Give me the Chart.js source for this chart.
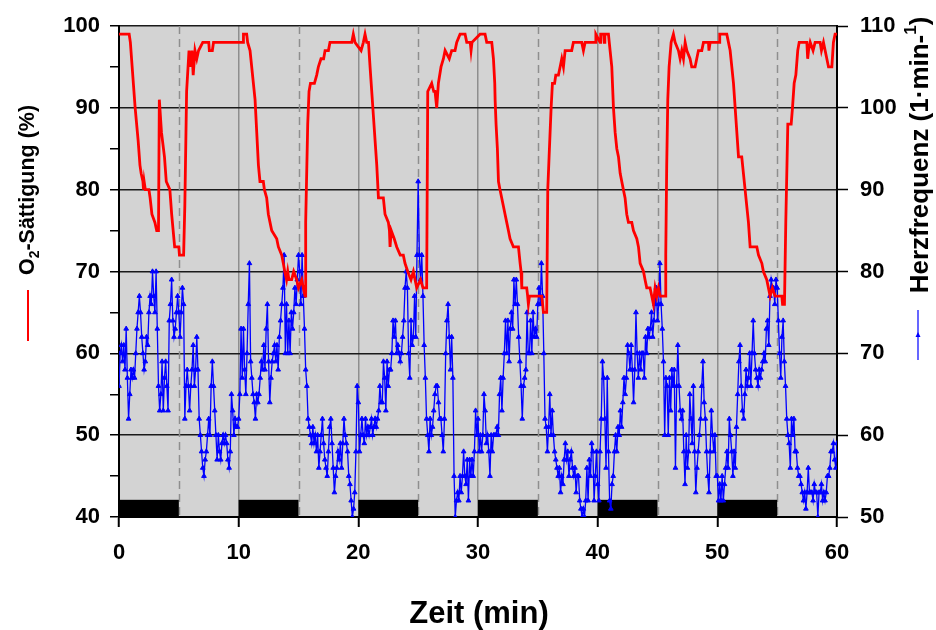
<!DOCTYPE html>
<html>
<head>
<meta charset="utf-8">
<script src="https://cdn.jsdelivr.net/npm/chart.js@4"></script>
<style>
  body { margin: 0; background: #fff; }
  #chart { display: block; }
</style>
</head>
<body>
<canvas id="chart" width="936" height="630"></canvas>
<script>
var o2Time = [
  0, 0.85, 0.95, 1.35, 1.6, 1.75, 1.85, 2.0, 2.05, 2.1, 2.2, 2.5, 2.6, 2.75, 3.0, 3.15, 3.3, 3.37, 3.55, 3.8,
  3.95, 4.25, 4.4, 4.65, 5.0, 5.05, 5.4, 5.5, 5.65, 5.85, 6.0, 6.1, 6.2, 6.35, 6.5, 6.65, 7.0, 7.5, 7.55, 7.8, 7.9,
  10.39, 10.4, 10.67, 10.75, 10.95, 11.37, 11.51, 11.65, 11.78, 12.06, 12.15, 12.34, 12.48, 12.62, 12.76, 13.18,
  13.32, 13.6, 13.73, 13.85, 14.0, 14.1, 14.2, 14.43, 14.6, 14.85, 15.0, 15.27, 15.4, 15.55, 15.6, 15.77, 15.88,
  16.0, 16.33, 16.52, 16.66, 16.88, 17.1, 17.22, 17.5, 17.63, 19.45, 19.58, 19.72,
  20.23, 20.42, 20.56, 20.7, 20.85, 20.98, 21.12, 21.26, 21.4, 21.54, 21.68, 22.09, 22.23, 22.51, 22.6, 22.65,
  22.75, 23.0, 23.21, 23.5, 23.76, 23.9, 24.13, 24.4, 24.6, 24.88, 25.2, 25.4, 25.71, 25.8, 26.13, 26.3, 26.41,
  26.55, 26.69, 26.91, 27.11, 27.25, 27.6, 27.8, 28.08, 28.22, 28.5, 28.92, 29.06, 29.35, 29.42, 29.5,
  30.17, 30.59, 30.73, 31.15, 31.29, 31.4, 31.43, 31.51, 31.62, 31.71, 31.84, 32.12, 32.26, 32.4, 32.54, 32.68,
  32.96, 33.38, 33.52, 33.6, 33.66, 34.07, 34.15, 34.21, 34.3, 35.33, 35.47, 35.74, 35.83, 35.94, 36.11, 36.22,
  36.4, 36.5, 36.72, 36.86, 37.0, 37.14, 37.28, 37.83, 37.97, 38.67, 38.81, 38.95, 39.78, 39.85,
  40.2, 40.25, 40.5, 40.55, 40.6, 40.9, 41.04, 41.18, 41.32, 41.46, 41.6, 41.74, 41.88, 42.15, 42.29, 42.43,
  42.57, 42.85, 42.99, 43.27, 43.41, 43.55, 43.83, 43.96, 44.1, 44.38, 44.52, 44.66, 44.8, 44.94, 45.08, 45.22,
  45.64, 45.69, 45.77, 45.86, 45.97, 46.14, 46.33, 46.47, 46.75, 46.89, 47.03, 47.17, 47.31, 47.45, 47.72, 47.86,
  48.14, 48.28, 48.42, 48.7, 48.84, 49.26, 49.3, 49.4, 49.53,
  50.15, 50.2, 50.79, 50.93, 51.07, 51.21, 51.35, 51.49, 51.63, 51.77, 52.04, 52.18, 52.32, 52.46, 52.6, 52.74,
  53.3, 53.44, 53.72, 53.85, 54.13, 54.27, 54.41, 54.6, 54.83, 55.39, 55.45, 55.61, 55.72, 55.89, 56.17, 56.28,
  56.42, 56.56, 56.72, 56.84, 57.48, 57.55, 57.62, 57.76, 58.0, 58.17, 58.59, 58.7, 58.87, 59.15, 59.29, 59.57,
  59.7, 59.84, 60
];
var o2Values = [
  99, 99, 98, 90, 86, 83, 82, 81, 80, 81, 80, 80, 79, 77, 76, 75, 75, 91, 87, 84,
  81, 80, 77, 73, 73, 72, 72, 78, 92, 97, 95, 97, 94, 97, 96, 97, 98, 98, 97, 97, 98,
  98, 99, 99, 98, 97, 91, 87, 83, 81, 81, 80, 79, 77, 76, 75, 74,
  73, 72, 71, 70, 69, 70, 69, 69, 70, 69, 68, 69, 68, 67, 76, 88, 92,
  93, 93, 94, 95, 96, 96, 97, 97, 98, 98, 99, 98,
  97, 98, 99, 98, 98, 95, 92, 89, 86, 83, 79, 79, 77, 76, 75, 73,
  75, 74, 73, 72, 72, 71, 70, 69, 70, 68, 69, 68, 68, 92, 93, 92, 92,
  90, 93, 95, 96, 97, 96, 97, 97, 98, 99, 99, 98, 98, 97, 98,
  99, 99, 98, 98, 96, 93, 91, 88, 85, 81, 80, 78, 77, 76, 75, 74,
  73, 73, 71, 70, 68, 68, 67, 66, 67, 67, 65, 65, 80, 84, 90, 93,
  93, 94, 94, 95, 96, 95, 97, 97, 98, 98, 97, 98, 98, 99,
  98, 99, 99, 98, 99, 99, 97, 95, 90, 87, 85, 84, 82, 80, 79, 77,
  76, 76, 75, 74, 73, 71, 70, 69, 68, 68, 67, 66, 68, 67, 68, 67,
  67, 72, 83, 91, 95, 98, 99, 98, 97, 96, 97, 96, 98, 97, 96, 95,
  95, 96, 97, 97, 98, 98, 97, 98, 98,
  98, 99, 99, 98, 97, 95, 93, 90, 87, 84, 84, 82, 80, 78, 76, 73,
  73, 72, 71, 70, 69, 68, 67, 68, 67, 67, 66, 66, 76, 88, 88, 90,
  93, 94, 97, 98, 98, 96, 97, 98, 97, 98, 98, 97, 98, 96, 95, 95,
  98, 99, 99
];

// Herzfrequenz (1/min), one reading every 0.1 min, one row per minute
var hrStep = 0.1;
var hrValues = [
  66, 70, 71, 69, 71, 68, 73, 67, 62, 65,
  68, 67, 68, 67, 70, 73, 75, 77, 75, 72,
  70, 68, 69, 72, 71, 75, 77, 76, 80, 77,
  75, 80, 73, 66, 63, 65, 69, 63, 67, 69,
  66, 63, 74, 76, 79, 74, 72, 73, 75, 77,
  75, 72, 75, 78, 76, 62, 66, 68, 66, 63,
  66, 68, 71, 66, 68, 72, 68, 62, 60, 58,
  56, 55, 57, 58, 60, 62, 60, 66, 69, 66,
  63, 60, 57, 60, 58, 57, 59, 60, 59, 60,
  59, 57, 56, 58, 65, 63, 60, 62, 61, 61,
  62, 65, 73, 67, 73, 68, 65, 70, 76, 81,
  69, 67, 65, 64, 62, 65, 64, 65, 67, 69,
  68, 71, 68, 73, 76, 69, 64, 67, 69, 70,
  71, 69, 71, 68, 72, 74, 76, 78, 82, 70,
  76, 70, 74, 70, 75, 73, 75, 78, 76, 79,
  82, 80, 76, 82, 77, 73, 68, 66, 62, 61,
  60, 59, 61, 59, 60, 58, 60, 56, 58, 60,
  62, 59, 57, 56, 55, 58, 61, 62, 59, 56,
  53, 55, 56, 58, 57, 59, 56, 59, 62, 60,
  59, 58, 55, 54, 52, 50, 51, 53, 58, 66,
  64, 58, 60, 62, 60, 59, 62, 60, 61, 60,
  61, 62, 60, 61, 62, 61, 62, 63, 66, 64,
  64, 69, 67, 63, 69, 66, 68, 68, 70, 74,
  72, 74, 70, 71, 70, 69, 70, 72, 74, 78,
  80, 78, 70, 67, 74, 71, 72, 77, 72, 82,
  91, 82, 79, 82, 77, 71, 67, 62, 60, 58,
  62, 60, 61, 63, 65, 66, 66, 64, 62, 62,
  60, 58, 62, 70, 74, 76, 72, 68, 72, 67,
  55, 50, 52, 53, 52, 55, 53, 55, 58, 55,
  54, 57, 52, 57, 55, 57, 55, 58, 63, 60,
  62, 58, 60, 58, 60, 65, 63, 59, 60, 58,
  55, 60, 58, 60, 60, 60, 61, 60, 65, 67,
  63, 67, 70, 74, 70, 74, 69, 73, 75, 73,
  79, 76, 79, 76, 72, 69, 66, 62, 66, 67,
  68, 75, 70, 70, 74, 70, 75, 72, 73, 72,
  76, 78, 76, 81, 77, 70, 62, 61, 58, 61,
  65, 60, 63, 60, 58, 57, 56, 55, 56, 53,
  55, 54, 57, 59, 57, 58, 55, 57, 58, 56,
  55, 56, 53, 55, 55, 52, 51, 50, 51, 50,
  52, 56, 52, 57, 55, 59, 58, 52, 55, 58,
  54, 52, 58, 62, 69, 67, 62, 56, 67, 58,
  52, 51, 54, 55, 58, 60, 58, 61, 60, 63,
  61, 64, 67, 65, 67, 71, 70, 68, 71, 68,
  64, 68, 75, 70, 67, 70, 68, 70, 70, 67,
  72, 70, 73, 72, 73, 75, 72, 74, 76, 78,
  74, 76, 81, 76, 73, 69, 60, 67, 66, 60,
  67, 63, 68, 66, 68, 56, 66, 71, 66, 63,
  62, 63, 58, 54, 60, 56, 58, 65, 62, 59,
  66, 58, 53, 56, 58, 60, 62, 66, 69, 64,
  62, 58, 55, 53, 58, 63, 60, 58, 60, 55,
  55, 52, 54, 52, 55, 52, 54, 56, 58, 56,
  62, 60, 58, 55, 58, 56, 61, 65, 69, 71,
  66, 63, 62, 65, 68, 66, 67, 70, 66, 70,
  74, 70, 68, 67, 66, 68, 67, 68, 69, 70,
  69, 73, 74, 71, 77, 79, 78, 78, 76, 79,
  78, 74, 70, 67, 72, 74, 69, 66, 62, 60,
  59, 56, 62, 60, 62, 58, 58, 56, 55, 55,
  54, 53, 52, 53, 51, 53, 56, 53, 53, 53,
  52, 54, 53, 53, 50, 53, 53, 54, 52, 53,
  52, 53, 55, 55, 56, 58, 58, 59, 57, 56,
  59
];

// black bars along the bottom (left axis units)
var barStart = [0, 10, 20, 30, 40, 50];
var barEnd = [5, 15, 25, 35, 45, 55];
var barBottom = 40;
var barTop = 42.1;
// dashed verticals
var dashedAt = [5, 15, 25, 35, 45, 55];

var FONT = '"Liberation Sans", Arial, sans-serif';

// text laid out along a rotated baseline, with sub/superscript pieces
function drawRotated(ctx, parts, bx, cy, size) {
  ctx.save();
  ctx.translate(bx, cy);
  ctx.rotate(-Math.PI / 2);
  var total = 0;
  parts.forEach(function (p) {
    ctx.font = 'bold ' + (p.s ? size * 0.65 : size) + 'px ' + FONT;
    p.w = ctx.measureText(p.t).width;
    total += p.w;
  });
  var x = -total / 2;
  ctx.textAlign = 'left';
  ctx.textBaseline = 'alphabetic';
  parts.forEach(function (p) {
    ctx.font = 'bold ' + (p.s ? size * 0.65 : size) + 'px ' + FONT;
    var dy = p.s === 'sub' ? size * 0.22 : (p.s === 'sup' ? -size * 0.45 : 0);
    ctx.fillText(p.t, x, dy);
    x += p.w;
  });
  ctx.restore();
}

var decor = {
  id: 'decor',
  beforeDraw: function (chart) {
    var a = chart.chartArea, ctx = chart.ctx;
    ctx.save();
    ctx.fillStyle = '#d3d3d3';
    ctx.fillRect(a.left, a.top, a.right - a.left, a.bottom - a.top);
    ctx.restore();
  },
  beforeDatasetsDraw: function (chart) {
    var a = chart.chartArea, ctx = chart.ctx;
    var xs = chart.scales.x, ys = chart.scales.y;
    ctx.save();
    ctx.strokeStyle = '#8e8e8e';
    ctx.lineWidth = 1.5;
    ctx.setLineDash([8, 5]);
    dashedAt.forEach(function (v) {
      var px = Math.round(xs.getPixelForValue(v)) + 0.5;
      ctx.beginPath();
      ctx.moveTo(px, a.top);
      ctx.lineTo(px, a.bottom);
      ctx.stroke();
    });
    ctx.setLineDash([]);
    ctx.fillStyle = '#000';
    for (var i = 0; i < barStart.length; i++) {
      var x0 = xs.getPixelForValue(barStart[i]);
      var x1 = xs.getPixelForValue(barEnd[i]);
      var y0 = ys.getPixelForValue(barTop);
      var y1 = ys.getPixelForValue(barBottom);
      ctx.fillRect(x0, y0, x1 - x0, y1 - y0);
    }
    ctx.restore();
  },
  afterDraw: function (chart) {
    var a = chart.chartArea, ctx = chart.ctx;
    ctx.save();
    ctx.fillStyle = '#000';
    ctx.font = 'bold 31px ' + FONT;
    ctx.textAlign = 'center';
    ctx.textBaseline = 'alphabetic';
    ctx.fillText('Zeit (min)', (a.left + a.right) / 2 + 1, 623);

    drawRotated(ctx, [{ t: 'O' }, { t: '2', s: 'sub' }, { t: '-Sättigung (%)' }], 34, 190, 21.5);
    drawRotated(ctx, [{ t: 'Herzfrequenz (1·min-' }, { t: '1', s: 'sup' }, { t: ')' }], 928, 155, 26);

    // legend keys under the axis titles
    ctx.strokeStyle = '#ff0000';
    ctx.lineWidth = 2;
    ctx.beginPath();
    ctx.moveTo(28, 290);
    ctx.lineTo(28, 341);
    ctx.stroke();
    ctx.strokeStyle = '#0000ff';
    ctx.lineWidth = 1.2;
    ctx.beginPath();
    ctx.moveTo(918, 310);
    ctx.lineTo(918, 360);
    ctx.stroke();
    ctx.fillStyle = '#0000ff';
    ctx.beginPath();
    ctx.moveTo(918, 332);
    ctx.lineTo(920.5, 337);
    ctx.lineTo(915.5, 337);
    ctx.closePath();
    ctx.fill();
    ctx.restore();
  }
};

new Chart(document.getElementById('chart'), {
  type: 'line',
  data: {
    datasets: [{
      label: 'O2-Sättigung',
      data: o2Time.map(function (t, i) { return { x: t, y: o2Values[i] }; }),
      yAxisID: 'y',
      borderColor: '#ff0000',
      borderWidth: 2.8,
      pointRadius: 0,
      tension: 0
    }, {
      label: 'Herzfrequenz',
      data: hrValues.map(function (v, i) { return { x: Math.round(i * hrStep * 10) / 10, y: v }; }),
      yAxisID: 'y2',
      borderColor: '#0000ff',
      backgroundColor: '#0000ff',
      borderWidth: 1.3,
      pointStyle: 'triangle',
      pointRadius: 2.7,
      pointBorderWidth: 1,
      tension: 0
    }]
  },
  options: {
    responsive: false,
    animation: false,
    devicePixelRatio: 1,
    layout: { padding: { top: 26, left: 0, right: 0, bottom: 0 } },
    plugins: {
      legend: { display: false },
      tooltip: { enabled: false }
    },
    scales: {
      x: {
        type: 'linear',
        min: 0,
        max: 60,
        ticks: {
          stepSize: 10,
          color: '#000',
          padding: 13,
          font: { family: FONT, size: 22, weight: 'bold' }
        },
        grid: {
          color: function (c) { return (c.tick && (c.tick.value === 0 || c.tick.value === 60)) ? 'rgba(0,0,0,0)' : '#8e8e8e'; },
          lineWidth: 1.5,
          tickColor: '#000',
          tickLength: 10,
          tickWidth: 2
        },
        border: { color: '#000', width: 2 },
        afterFit: function (s) { s.height = 113; }
      },
      y: {
        position: 'left',
        min: 40,
        max: 100,
        ticks: {
          stepSize: 5,
          color: '#000',
          padding: 10,
          font: { family: FONT, size: 22, weight: 'bold' },
          callback: function (v) { return v % 10 === 0 ? v : ''; }
        },
        grid: {
          color: function (c) { return (c.tick && c.tick.value % 10 === 0) ? '#1a1a1a' : 'rgba(0,0,0,0)'; },
          lineWidth: 1.5,
          tickColor: '#000',
          tickLength: 9,
          tickWidth: 1.5
        },
        border: { color: '#000', width: 2 },
        afterFit: function (s) { s.width = 119; }
      },
      y2: {
        position: 'right',
        min: 50,
        max: 110,
        ticks: {
          stepSize: 10,
          color: '#000',
          padding: 12,
          font: { family: FONT, size: 22, weight: 'bold' }
        },
        grid: {
          drawOnChartArea: false,
          tickColor: '#000',
          tickLength: 11,
          tickWidth: 1.5
        },
        border: { color: '#000', width: 2 },
        afterFit: function (s) { s.width = 99; }
      }
    }
  },
  plugins: [decor]
});
</script>
</body>
</html>
